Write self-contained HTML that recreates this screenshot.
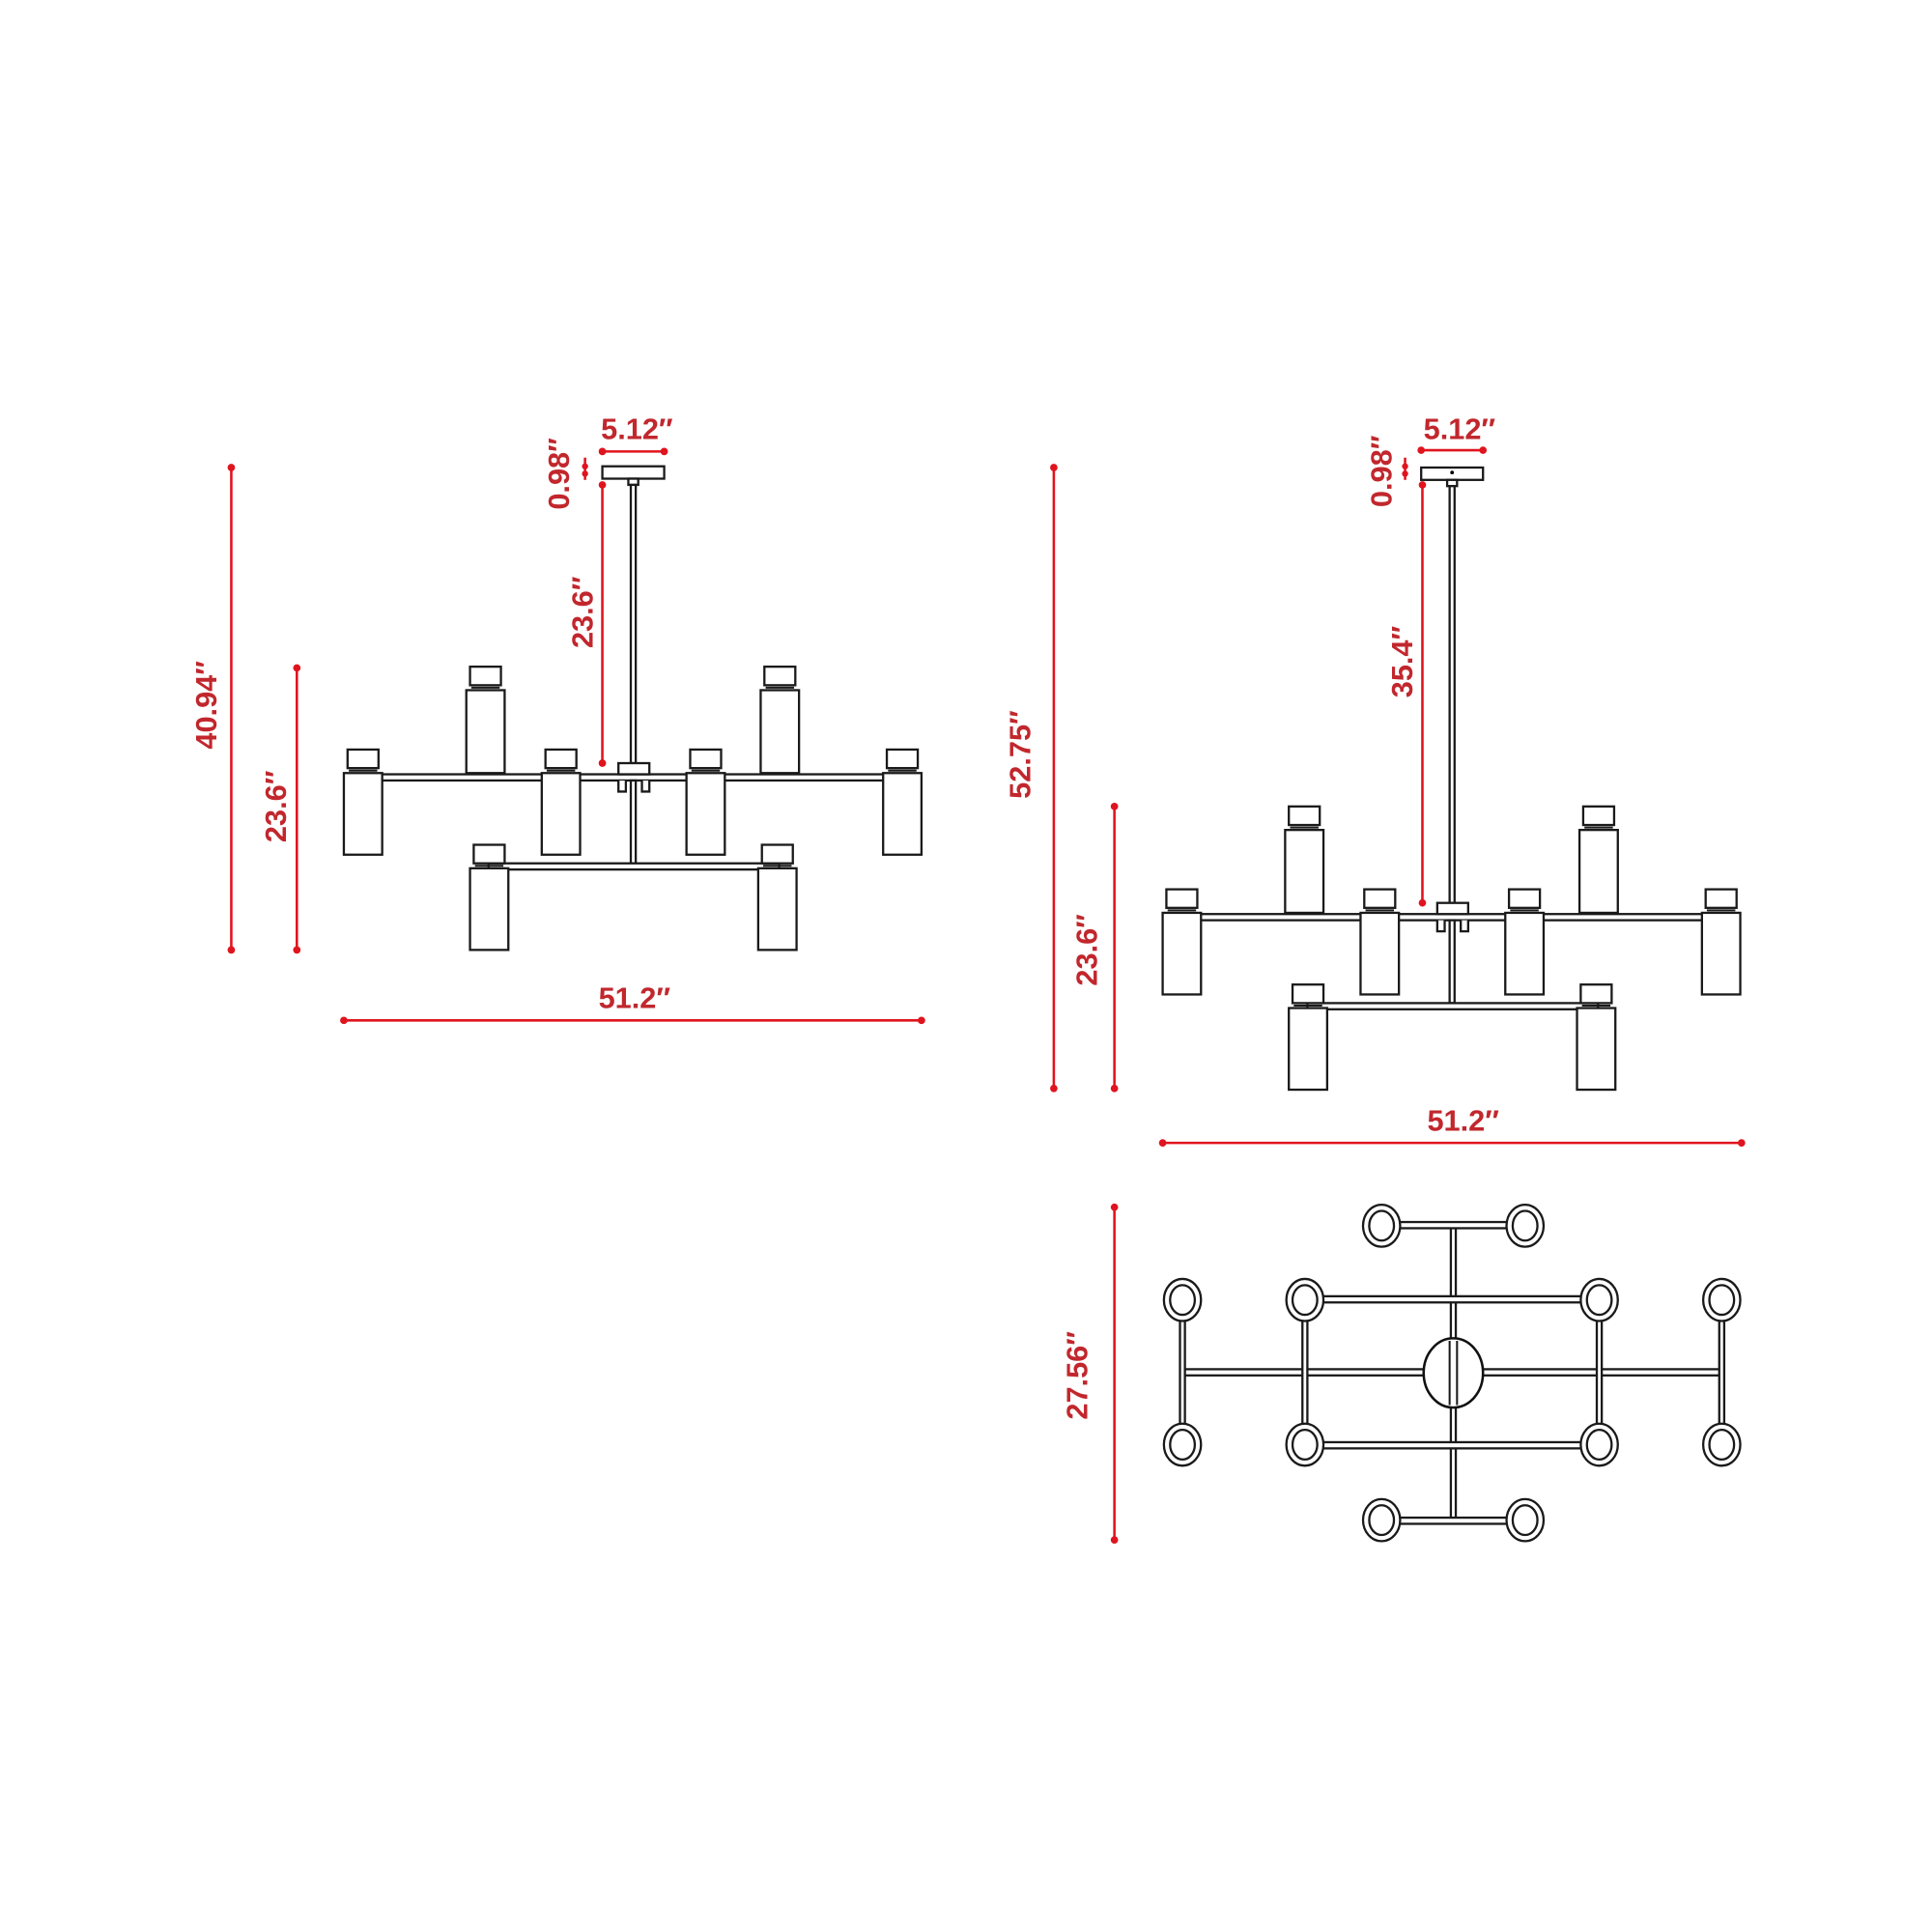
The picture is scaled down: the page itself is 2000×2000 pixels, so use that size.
<!DOCTYPE html>
<html><head><meta charset="utf-8"><style>
html,body{margin:0;padding:0;background:#fff}
svg{display:block}
.t{font-family:"Liberation Sans",sans-serif;font-weight:bold;font-size:24px;fill:#c1272d}
.r{stroke:#e0141e;stroke-width:2;fill:none}
.d{fill:#e0141e}
.k{stroke:#1a1a1a;stroke-width:1.8;fill:#fff}
.kl{stroke:#1a1a1a;stroke-width:1.6;fill:none}
</style></head><body>
<svg width="2000" height="2000" viewBox="0 0 1562 1562" xmlns="http://www.w3.org/2000/svg" xmlns:xlink="http://www.w3.org/1999/xlink">
<defs>
<g id="cupd"><!-- hanging cup: cap above, body below; origin at left of body top -->
<rect class="k" x="3" y="-19" width="25" height="15"/>
<line class="kl" x1="4" y1="-2" x2="27" y2="-2"/>
<rect class="k" x="0" y="0" width="31" height="66"/>
</g>
<g id="cupu"><!-- upward cup: origin at body bottom-left -->
<rect class="k" x="0" y="-67" width="31" height="67"/>
<line class="kl" x1="4" y1="-69" x2="27" y2="-69"/>
<rect class="k" x="3" y="-86" width="25" height="15"/>
</g>
<g id="body">
<!-- upper arm -->
<rect class="k" x="300" y="626" width="420" height="5"/>
<use xlink:href="#cupu" x="377" y="625"/>
<use xlink:href="#cupu" x="615" y="625"/>
<use xlink:href="#cupd" x="278" y="625"/>
<use xlink:href="#cupd" x="438" y="625"/>
<use xlink:href="#cupd" x="555" y="625"/>
<use xlink:href="#cupd" x="714" y="625"/>
<!-- hub -->
<rect class="k" x="500" y="617" width="25" height="9"/>
<path class="k" d="M500 631 V640 H506 V631 M525 631 V640 H519 V631"/>
<rect class="k" x="510" y="631" width="4" height="67"/>
<!-- lower arm -->
<rect class="k" x="395" y="698" width="235" height="5"/>
<use xlink:href="#cupd" x="380" y="702"/>
<use xlink:href="#cupd" x="613" y="702"/>
</g>
</defs>

<!-- LEFT ELEVATION -->
<rect class="k" x="487" y="377" width="50" height="10"/>
<rect class="k" x="508" y="387" width="8" height="5"/>
<rect class="k" x="510" y="392" width="4" height="225"/>
<use xlink:href="#body"/>

<line class="r" x1="187" y1="378" x2="187" y2="768"/><circle class="d" cx="187" cy="378" r="3"/><circle class="d" cx="187" cy="768" r="3"/>
<text class="t" transform="translate(175,570) rotate(-90)" text-anchor="middle">40.94″</text>
<line class="r" x1="240" y1="540" x2="240" y2="768"/><circle class="d" cx="240" cy="540" r="3"/><circle class="d" cx="240" cy="768" r="3"/>
<text class="t" transform="translate(231,652) rotate(-90)" text-anchor="middle">23.6″</text>
<line class="r" x1="278" y1="825" x2="745" y2="825"/><circle class="d" cx="278" cy="825" r="3"/><circle class="d" cx="745" cy="825" r="3"/>
<text class="t" x="513" y="815" text-anchor="middle">51.2″</text>
<line class="r" x1="487" y1="365" x2="537" y2="365"/><circle class="d" cx="487" cy="365" r="3"/><circle class="d" cx="537" cy="365" r="3"/>
<text class="t" x="515" y="355" text-anchor="middle">5.12″</text>
<line class="r" x1="473" y1="370" x2="473" y2="388"/><circle class="d" cx="473" cy="377" r="2.5"/><circle class="d" cx="473" cy="383" r="2.5"/>
<text class="t" transform="translate(460,383) rotate(-90)" text-anchor="middle">0.98″</text>
<line class="r" x1="487" y1="392" x2="487" y2="617"/><circle class="d" cx="487" cy="392" r="3"/><circle class="d" cx="487" cy="617" r="3"/>
<text class="t" transform="translate(479,495) rotate(-90)" text-anchor="middle">23.6″</text>

<!-- RIGHT ELEVATION -->
<rect class="k" x="1149" y="378" width="50" height="10"/>
<circle cx="1174" cy="382" r="1.5" fill="#000"/>
<rect class="k" x="1170" y="388" width="8" height="5"/>
<rect class="k" x="1172" y="393" width="4" height="337"/>
<g transform="translate(662,113)"><use xlink:href="#body"/></g>

<line class="r" x1="852" y1="378" x2="852" y2="880"/><circle class="d" cx="852" cy="378" r="3"/><circle class="d" cx="852" cy="880" r="3"/>
<text class="t" transform="translate(833,610) rotate(-90)" text-anchor="middle">52.75″</text>
<line class="r" x1="901" y1="652" x2="901" y2="880"/><circle class="d" cx="901" cy="652" r="3"/><circle class="d" cx="901" cy="880" r="3"/>
<text class="t" transform="translate(887,768) rotate(-90)" text-anchor="middle">23.6″</text>
<line class="r" x1="1150" y1="392" x2="1150" y2="730"/><circle class="d" cx="1150" cy="392" r="3"/><circle class="d" cx="1150" cy="730" r="3"/>
<text class="t" transform="translate(1142,535) rotate(-90)" text-anchor="middle">35.4″</text>
<line class="r" x1="1136" y1="370" x2="1136" y2="388"/><circle class="d" cx="1136" cy="377" r="2.5"/><circle class="d" cx="1136" cy="383" r="2.5"/>
<text class="t" transform="translate(1125,381) rotate(-90)" text-anchor="middle">0.98″</text>
<line class="r" x1="1149" y1="364" x2="1199" y2="364"/><circle class="d" cx="1149" cy="364" r="3"/><circle class="d" cx="1199" cy="364" r="3"/>
<text class="t" x="1180" y="355" text-anchor="middle">5.12″</text>
<line class="r" x1="940" y1="924" x2="1408" y2="924"/><circle class="d" cx="940" cy="924" r="3"/><circle class="d" cx="1408" cy="924" r="3"/>
<text class="t" x="1183" y="914" text-anchor="middle">51.2″</text>

<!-- PLAN VIEW -->
<line class="r" x1="901" y1="976" x2="901" y2="1245"/><circle class="d" cx="901" cy="976" r="3"/><circle class="d" cx="901" cy="1245" r="3"/>
<text class="t" transform="translate(879,1112) rotate(-90)" text-anchor="middle">27.56″</text>
<g>
<rect class="k" x="1173" y="991" width="4" height="238"/>
<rect class="k" x="956" y="1107" width="436" height="5"/>
<rect class="k" x="1117" y="988" width="116" height="5"/>
<rect class="k" x="1117" y="1227" width="116" height="5"/>
<rect class="k" x="1055" y="1048" width="238" height="5"/>
<rect class="k" x="1055" y="1166" width="238" height="5"/>
<rect class="k" x="954" y="1051" width="4" height="117"/>
<rect class="k" x="1053" y="1051" width="4" height="117"/>
<rect class="k" x="1291" y="1051" width="4" height="117"/>
<rect class="k" x="1390" y="1051" width="4" height="117"/>
<ellipse cx="1175" cy="1110" rx="24" ry="28" fill="#fff" stroke="#111" stroke-width="2"/>
<line class="kl" x1="1172" y1="1084" x2="1172" y2="1136"/><line class="kl" x1="1178" y1="1084" x2="1178" y2="1136"/>
<g fill="#fff" stroke="#1a1a1a" stroke-width="1.8">
<ellipse cx="1117" cy="991" rx="15" ry="17"/><ellipse cx="1117" cy="991" rx="10" ry="12"/>
<ellipse cx="1233" cy="991" rx="15" ry="17"/><ellipse cx="1233" cy="991" rx="10" ry="12"/>
<ellipse cx="1117" cy="1229" rx="15" ry="17"/><ellipse cx="1117" cy="1229" rx="10" ry="12"/>
<ellipse cx="1233" cy="1229" rx="15" ry="17"/><ellipse cx="1233" cy="1229" rx="10" ry="12"/>
<ellipse cx="956" cy="1051" rx="15" ry="17"/><ellipse cx="956" cy="1051" rx="10" ry="12"/>
<ellipse cx="1055" cy="1051" rx="15" ry="17"/><ellipse cx="1055" cy="1051" rx="10" ry="12"/>
<ellipse cx="1293" cy="1051" rx="15" ry="17"/><ellipse cx="1293" cy="1051" rx="10" ry="12"/>
<ellipse cx="1392" cy="1051" rx="15" ry="17"/><ellipse cx="1392" cy="1051" rx="10" ry="12"/>
<ellipse cx="956" cy="1168" rx="15" ry="17"/><ellipse cx="956" cy="1168" rx="10" ry="12"/>
<ellipse cx="1055" cy="1168" rx="15" ry="17"/><ellipse cx="1055" cy="1168" rx="10" ry="12"/>
<ellipse cx="1293" cy="1168" rx="15" ry="17"/><ellipse cx="1293" cy="1168" rx="10" ry="12"/>
<ellipse cx="1392" cy="1168" rx="15" ry="17"/><ellipse cx="1392" cy="1168" rx="10" ry="12"/>
</g>
</g>
</svg>
</body></html>
